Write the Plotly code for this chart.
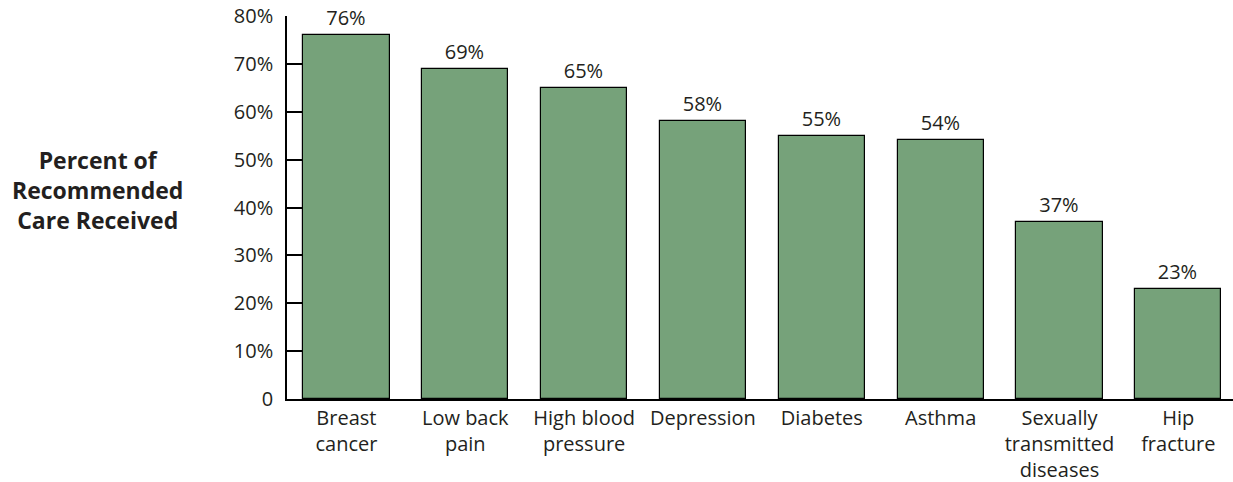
import plotly.graph_objects as go

categories = ["Breast<br>cancer", "Low back<br>pain", "High blood<br>pressure", "Depression",
              "Diabetes", "Asthma", "Sexually<br>transmitted<br>diseases", "Hip<br>fracture"]
values = [76, 69, 65, 58, 55, 54, 37, 23]
y_ticks = [0, 10, 20, 30, 40, 50, 60, 70, 80]
y_tick_labels = ["0", "10%", "20%", "30%", "40%", "50%", "60%", "70%", "80%"]

FONT = "Open Sans, Noto Sans, sans-serif"
TEXT_COLOR = "#231f20"

fig = go.Figure(go.Bar(
    x=list(range(len(categories))),
    y=values,
    width=0.725,
    marker=dict(color="#76a27a", line=dict(color="#000000", width=1.2)),
    text=[f"{v}%" for v in values],
    textposition="outside",
    textfont=dict(family=FONT, size=20, color=TEXT_COLOR),
    cliponaxis=False,
))

fig.update_layout(
    width=1233, height=482,
    margin=dict(l=287, r=0, t=16, b=83),
    plot_bgcolor="white", paper_bgcolor="white",
    showlegend=False,
    bargap=0,
    uniformtext=dict(minsize=20, mode="show"),
    xaxis=dict(
        range=[-0.5, 7.46],
        tickmode="array",
        tickvals=list(range(len(categories))),
        ticktext=categories,
        tickson="boundaries",
        ticks="inside", ticklen=9, tickwidth=1.5, tickcolor="#000",
        showline=True, linecolor="#000", linewidth=1.5,
        showgrid=False, zeroline=False,
        tickfont=dict(family=FONT, size=20, color=TEXT_COLOR),
        layer="below traces",
    ),
    yaxis=dict(
        range=[0, 80],
        tickmode="array",
        tickvals=y_ticks,
        ticktext=y_tick_labels,
        ticks="inside", ticklen=24, tickwidth=1.5, tickcolor="#000",
        showline=True, linecolor="#000", linewidth=1.5,
        showgrid=False, zeroline=False,
        tickfont=dict(family=FONT, size=20, color=TEXT_COLOR),
        ticklabelstandoff=8,
        layer="below traces",
    ),
    annotations=[dict(
        text="<b>Percent of<br>Recommended<br>Care Received</b>",
        xref="paper", yref="paper", x=-0.1998, y=0.546,
        xanchor="center", yanchor="middle", showarrow=False,
        font=dict(family=FONT, size=23, color=TEXT_COLOR),
        align="center",
    )],
)

fig.write_html("out.html")
